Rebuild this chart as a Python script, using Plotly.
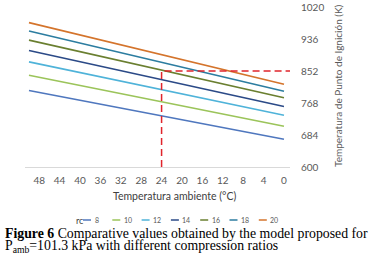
import plotly.graph_objects as go

# ---------------- data ----------------
amb_temp = [50, 0]                      # ambient temperature (°C), line ends
rc_labels = ["8", "10", "12", "14", "16", "18", "20"]
ign_rc8 = [801, 673]
ign_rc10 = [841, 707]
ign_rc12 = [876, 736]
ign_rc14 = [906, 759]
ign_rc16 = [933, 782]
ign_rc18 = [957, 799]
ign_rc20 = [979, 817]
series_vals = [ign_rc8, ign_rc10, ign_rc12, ign_rc14, ign_rc16, ign_rc18, ign_rc20]
colors = ["#4F77BE", "#9BC45A", "#4FB3D9", "#2B4A87", "#6A7F30", "#2C7DA0", "#D4742C"]

x_ticks = [48, 44, 40, 36, 32, 28, 24, 20, 16, 12, 8, 4, 0]
y_ticks = [600, 684, 768, 852, 936, 1020]

ref_temp = 24      # marked ambient temperature
ref_ign = 852      # marked ignition temperature

W, H = 370, 255
L, R, T, B = 25, 80, 7, 88
PW, PH = W - L - R, H - T - B

def px(x):
    return (x - L) / PW

def py(y):
    return (H - B - y) / PH

fig = go.Figure()
for name, vals, col in zip(rc_labels, series_vals, colors):
    fig.add_trace(go.Scatter(x=amb_temp, y=vals, mode="lines", name=name,
                             line=dict(color=col, width=1.6), showlegend=False))

# reference dashed lines
fig.add_trace(go.Scatter(x=[ref_temp, ref_temp, -1.18], y=[y_ticks[0], ref_ign, ref_ign],
                         mode="lines", line=dict(color="#E0242B", width=1.5, dash="7px,4px"),
                         showlegend=False))

tick_font = dict(family="Lato, Open Sans, sans-serif", size=10, color="#595959")

fig.update_layout(
    template="none",
    width=W, height=H,
    margin=dict(l=L, r=R, t=T, b=B, pad=0),
    paper_bgcolor="white", plot_bgcolor="white",
    xaxis=dict(range=[50.78, -1.18], tickmode="array", tickvals=x_ticks,
               ticktext=[str(v) for v in x_ticks], showgrid=False, zeroline=False,
               showline=True, linecolor="#D9D9D9", linewidth=1, automargin=False,
               ticks="outside", ticklen=4, tickcolor="rgba(0,0,0,0)",
               tickfont=tick_font),
    yaxis=dict(range=[600, 1020], side="right", tickmode="array", tickvals=y_ticks,
               ticktext=[str(v) for v in y_ticks], showgrid=False, zeroline=False,
               showline=False, ticks="outside", ticklen=8, tickcolor="rgba(0,0,0,0)",
               automargin=False, tickfont=tick_font),
    showlegend=False,
)

def ann(text, x, y, size, color, family="Lato, Open Sans, sans-serif", xanchor="center", **kw):
    return dict(text=text, x=px(x), y=py(y), xref="paper", yref="paper", showarrow=False,
                xanchor=xanchor, yanchor="middle",
                font=dict(family=family, size=size, color=color), **kw)

serif = "Liberation Serif, Times New Roman, serif"
annotations = [
    ann("Temperatura ambiente (°C)", 174.5, 196, 10.5, "#404040"),
    ann("Temperatura de Punto de Ignición (K)", 338, 86, 10, "#595959", textangle=-90),
    ann("rc", 73.5, 220, 9, "#404040", xanchor="left"),
    ann("<b>Figure 6</b> Comparative values obtained by the model proposed for",
        3, 233, 13.8, "black", family=serif, xanchor="left"),
    ann("P<sub>amb</sub>=101.3 kPa with different compression ratios",
        3, 246.5, 13.8, "black", family=serif, xanchor="left"),
]

shapes = []
for i, (name, col) in enumerate(zip(rc_labels, colors)):
    x0 = 83 + i * 29.3
    shapes.append(dict(type="line", xref="paper", yref="paper",
                       x0=px(x0), x1=px(x0 + 8), y0=py(220), y1=py(220),
                       line=dict(color=col, width=1.5)))
    annotations.append(ann(name, x0 + 9.5, 220, 7, "#595959", xanchor="left"))

fig.update_layout(annotations=annotations, shapes=shapes)
fig.write_html("out.html", config={"displayModeBar": False},
               post_script="document.body.style.margin='0';")
